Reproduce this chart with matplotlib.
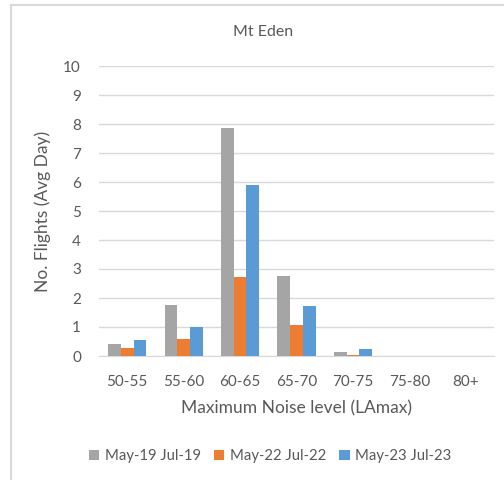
import numpy as np
import matplotlib.pyplot as plt

plt.rcParams['font.family'] = ['Lato', 'DejaVu Sans']

# Flights per noise band, average day
bands = ["50-55", "55-60", "60-65", "65-70", "70-75", "75-80", "80+"]
may19_jul19 = [0.42, 1.76, 7.87, 2.76, 0.13, 0.0, 0.0]
may22_jul22 = [0.27, 0.58, 2.74, 1.08, 0.05, 0.0, 0.0]
may23_jul23 = [0.55, 1.01, 5.89, 1.71, 0.23, 0.0, 0.0]

series = [
    ("May-19 Jul-19", may19_jul19, "#A5A5A5"),
    ("May-22 Jul-22", may22_jul22, "#ED7D31"),
    ("May-23 Jul-23", may23_jul23, "#5B9BD5"),
]

text_col = "#595959"
grid_col = "#D9D9D9"

fig = plt.figure(figsize=(5.04, 4.8), dpi=100)
ax = fig.add_axes([99 / 504, 1 - 356 / 480, (494 - 99) / 504, (356 - 66) / 480])

x = np.arange(len(bands))
w = 0.226
for i, (name, vals, col) in enumerate(series):
    ax.bar(x + (i - 1) * w, vals, w, color=col, label=name, zorder=3)

ax.set_xlim(-0.5, len(bands) - 0.5)
ax.set_ylim(0, 10)
ax.set_yticks(range(0, 11))
ax.set_xticks(x)
ax.set_xticklabels(bands)
ax.yaxis.grid(True, color=grid_col, linewidth=1, zorder=0)
for s in ["top", "right", "left"]:
    ax.spines[s].set_visible(False)
ax.spines["bottom"].set_color(grid_col)
ax.tick_params(length=0, colors=text_col, labelsize=11)
ax.tick_params(axis="y", pad=13)
ax.tick_params(axis="x", pad=14)

ax.set_xlabel("Maximum Noise level (LAmax)", color=text_col, fontsize=12.5, labelpad=8)
ax.set_ylabel("No. Flights (Avg Day)", color=text_col, fontsize=12.5, labelpad=9)
fig.text(263 / 504, 1 - 32 / 480, "Mt Eden", ha="center", va="center",
         color=text_col, fontsize=11.5)

leg = fig.legend(loc="center", bbox_to_anchor=(270 / 504, 1 - 456 / 480), ncol=3,
                 frameon=False, fontsize=10.7, handlelength=0.7, handleheight=0.7,
                 handletextpad=0.35, columnspacing=0.9)
for t in leg.get_texts():
    t.set_color(text_col)

# chart frame edges
fig.add_artist(plt.Line2D([10.5 / 504, 10.5 / 504], [0, 1 - 5 / 480], color=grid_col, lw=1.5))
fig.add_artist(plt.Line2D([10.5 / 504, 1], [1 - 5 / 480, 1 - 5 / 480], color=grid_col, lw=1.5))

fig.savefig("out.png", dpi=100)
